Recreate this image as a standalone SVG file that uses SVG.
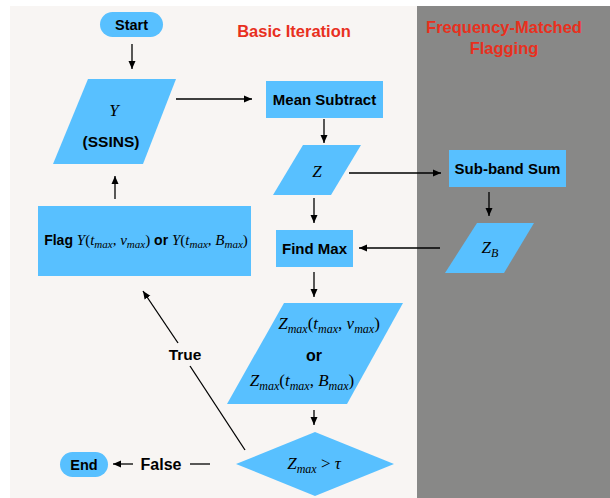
<svg xmlns="http://www.w3.org/2000/svg" width="610" height="498" viewBox="0 0 610 498">
<style>
.node{fill:#58C0FF;}
.lbl{font-family:"Liberation Sans",Arial,sans-serif;font-weight:bold;fill:#000;text-anchor:middle;dominant-baseline:central;}
.title{font-family:"Liberation Sans",Arial,sans-serif;font-weight:bold;fill:#E8301E;text-anchor:middle;font-size:16.5px;}
.math{font-family:"Liberation Serif","Times New Roman",serif;font-style:italic;fill:#000;text-anchor:middle;font-size:17px;}
.fm{font-size:15px;}
.fm .sub{font-size:11px;}
.up{font-style:normal;}
.sub{font-size:12px;}
.bw{font-family:"Liberation Sans",Arial,sans-serif;font-weight:bold;font-style:normal;font-size:14px;}
.edge{stroke:#000;stroke-width:1.3;fill:none;}
.arrow{marker-end:url(#ah);}
</style>
<defs>
<marker id="ah" markerUnits="userSpaceOnUse" markerWidth="9" markerHeight="8" refX="8" refY="4" orient="auto">
<path d="M0,0.5 L8,4 L0,7.5 Z" fill="#000"/>
</marker>
</defs>
<rect x="0" y="0" width="610" height="498" fill="#FFFFFF"/>
<rect x="10" y="6" width="407" height="492" fill="#F8F5F3"/>
<rect x="417" y="6" width="193" height="492" fill="#888887"/>
<text class="title" x="294" y="37">Basic Iteration</text>
<text class="title" x="504" y="33">Frequency-Matched</text>
<text class="title" x="504" y="54">Flagging</text>

<g id="connectors">
<line class="edge arrow" x1="132" y1="44" x2="132" y2="69"/>
<line class="edge arrow" x1="176" y1="99" x2="252" y2="99"/>
<line class="edge arrow" x1="324" y1="119" x2="324" y2="143"/>
<line class="edge arrow" x1="349" y1="173" x2="441" y2="173"/>
<line class="edge arrow" x1="489" y1="192" x2="489" y2="216"/>
<line class="edge arrow" x1="440" y1="248" x2="359" y2="248"/>
<line class="edge arrow" x1="314" y1="198" x2="314" y2="223"/>
<line class="edge arrow" x1="314" y1="272" x2="314" y2="297"/>
<line class="edge arrow" x1="314" y1="410" x2="314" y2="425"/>
<line class="edge arrow" x1="115" y1="199" x2="115" y2="176"/>
<line class="edge" x1="190" y1="464" x2="210" y2="464"/>
<line class="edge arrow" x1="133" y1="464" x2="113" y2="464"/>
<line class="edge" x1="245" y1="450" x2="190" y2="366"/>
<line class="edge arrow" x1="178" y1="343" x2="143" y2="291"/>
<text class="lbl" x="185" y="354" font-size="15.5">True</text>
<text class="lbl" x="161" y="464" font-size="16">False</text>
</g>

<g id="start">
<rect class="node" x="100" y="12" width="63" height="25" rx="12.5"/>
<text class="lbl" x="131.5" y="24.5" font-size="14.5">Start</text>
</g>

<g id="y">
<polygon class="node" points="88,79 176,79 143,164 53,164"/>
<text class="math" x="114" y="116">Y</text>
<text class="lbl" x="111" y="141" font-size="15.5">(SSINS)</text>
</g>

<g id="mean-subtract">
<rect class="node" x="266" y="81" width="117" height="37"/>
<text class="lbl" x="324.5" y="99.5" font-size="15">Mean Subtract</text>
</g>

<g id="z">
<polygon class="node" points="303,145 361,145 331,195 273,195"/>
<text class="math" x="317" y="177">Z</text>
</g>

<g id="sub-band-sum">
<rect class="node" x="449" y="150" width="117" height="37"/>
<text class="lbl" x="507.5" y="168.5" font-size="15">Sub-band Sum</text>
</g>

<g id="zb">
<polygon class="node" points="477,223 534,223 504,273 445,273"/>
<text class="math" x="490" y="253">Z<tspan class="sub" dy="4">B</tspan></text>
</g>

<g id="find-max">
<rect class="node" x="276" y="230" width="77" height="37"/>
<text class="lbl" x="314.5" y="248.5" font-size="15">Find Max</text>
</g>

<g id="flag">
<rect class="node" x="38" y="206" width="213" height="70"/>
<text class="math fm" x="146" y="245"><tspan class="bw">Flag </tspan>Y<tspan class="up">(</tspan>t<tspan class="sub" dy="3">max</tspan><tspan class="up" dy="-3">, </tspan>ν<tspan class="sub" dy="3">max</tspan><tspan class="up" dy="-3">)</tspan><tspan class="bw"> or </tspan>Y<tspan class="up">(</tspan>t<tspan class="sub" dy="3">max</tspan><tspan class="up" dy="-3">, </tspan>B<tspan class="sub" dy="3">max</tspan><tspan class="up" dy="-3">)</tspan></text>
</g>

<g id="zmax">
<polygon class="node" points="284,303 403,303 347,404 227,404"/>
<text class="math" x="329" y="329">Z<tspan class="sub" dy="4">max</tspan><tspan class="up" dy="-4">(</tspan>t<tspan class="sub" dy="4">max</tspan><tspan class="up" dy="-4">, </tspan>ν<tspan class="sub" dy="4">max</tspan><tspan class="up" dy="-4">)</tspan></text>
<text class="lbl" x="314" y="355" font-size="16">or</text>
<text class="math" x="302" y="386">Z<tspan class="sub" dy="4">max</tspan><tspan class="up" dy="-4">(</tspan>t<tspan class="sub" dy="4">max</tspan><tspan class="up" dy="-4">, </tspan>B<tspan class="sub" dy="4">max</tspan><tspan class="up" dy="-4">)</tspan></text>
</g>

<g id="decision">
<polygon class="node" points="315,432 394,464 315,496 236,464"/>
<text class="math" x="314" y="469">Z<tspan class="sub" dy="4">max</tspan><tspan class="up" dy="-4"> &gt; </tspan>τ</text>
</g>

<g id="end">
<rect class="node" x="60" y="452" width="48" height="25" rx="12.5"/>
<text class="lbl" x="84" y="464.5" font-size="14.5">End</text>
</g>
</svg>
